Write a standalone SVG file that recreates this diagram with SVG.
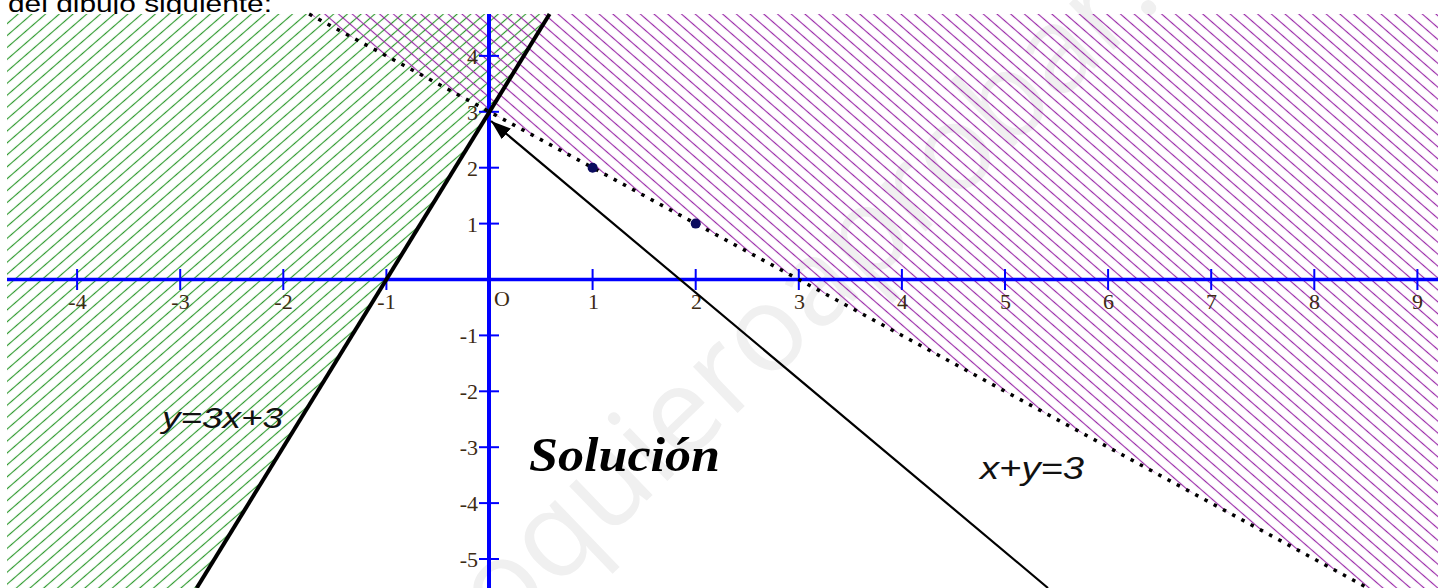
<svg xmlns="http://www.w3.org/2000/svg" width="1438" height="588" viewBox="0 0 1438 588">
<style>
.tl{font-family:"Liberation Serif","Times New Roman",serif;font-size:22px;fill:#3d2b14}
.tx{text-anchor:middle}
.ty{text-anchor:end}
.ax{stroke:#0000ff;fill:none}
.tk{stroke:#0000ff;stroke-width:2}
.eq{font-family:"Liberation Sans",Arial,sans-serif;font-style:italic;fill:#111}
</style>
<defs>
<pattern id="hg" patternUnits="userSpaceOnUse" width="9" height="9" patternTransform="rotate(-41)"><line x1="-1" y1="4.5" x2="10" y2="4.5" stroke="#2f9a2f" stroke-width="1.15"/></pattern>
<pattern id="hp" patternUnits="userSpaceOnUse" width="9" height="9" patternTransform="rotate(41)"><line x1="-1" y1="4.5" x2="10" y2="4.5" stroke="#9a2aa8" stroke-width="1.15"/></pattern>
<marker id="ah" markerUnits="userSpaceOnUse" markerWidth="22" markerHeight="16" refX="20" refY="7" orient="auto"><path d="M0,0 L20,7 L0,14 Z" fill="#000"/></marker>
</defs>
<rect width="1438" height="588" fill="#fff"/>
<text x="8" y="12" font-family="Liberation Sans,Arial,sans-serif" font-size="24" fill="#000" textLength="264" lengthAdjust="spacingAndGlyphs">del dibujo siguiente:</text>
<rect x="0" y="14" width="1438" height="574" fill="#fff"/>
<text x="459" y="682" transform="rotate(-44 459 682)" font-family="Open Sans,sans-serif" font-size="120" fill="#f0f0f0">yoquieroaprobar.es</text>
<g id="regions">
<polygon id="region-green" points="7,14 549.6,14 196.7,588 7,588" fill="url(#hg)"/>
<polygon id="region-purple" points="309.1,14 1438,14 1438,588 1367.8,588" fill="url(#hp)"/>
</g>
<g id="axes">
<line class="ax" x1="7" y1="279.5" x2="1438" y2="279.5" stroke-width="3.5"/>
<line class="ax" x1="489" y1="14" x2="489" y2="588" stroke-width="4"/>
<g id="xticks">
<line class="tk" x1="77.1" y1="269" x2="77.1" y2="290"/>
<line class="tk" x1="180.2" y1="269" x2="180.2" y2="290"/>
<line class="tk" x1="283.3" y1="269" x2="283.3" y2="290"/>
<line class="tk" x1="386.4" y1="269" x2="386.4" y2="290"/>
<line class="tk" x1="592.6" y1="269" x2="592.6" y2="290"/>
<line class="tk" x1="695.7" y1="269" x2="695.7" y2="290"/>
<line class="tk" x1="798.8" y1="269" x2="798.8" y2="290"/>
<line class="tk" x1="901.9" y1="269" x2="901.9" y2="290"/>
<line class="tk" x1="1005" y1="269" x2="1005" y2="290"/>
<line class="tk" x1="1108.1" y1="269" x2="1108.1" y2="290"/>
<line class="tk" x1="1211.2" y1="269" x2="1211.2" y2="290"/>
<line class="tk" x1="1314.3" y1="269" x2="1314.3" y2="290"/>
<line class="tk" x1="1417.4" y1="269" x2="1417.4" y2="290"/>
</g>
<g id="yticks">
<line class="tk" x1="479" y1="55.9" x2="499" y2="55.9"/>
<line class="tk" x1="479" y1="111.8" x2="499" y2="111.8"/>
<line class="tk" x1="479" y1="167.7" x2="499" y2="167.7"/>
<line class="tk" x1="479" y1="223.6" x2="499" y2="223.6"/>
<line class="tk" x1="479" y1="335.4" x2="499" y2="335.4"/>
<line class="tk" x1="479" y1="391.3" x2="499" y2="391.3"/>
<line class="tk" x1="479" y1="447.2" x2="499" y2="447.2"/>
<line class="tk" x1="479" y1="503.1" x2="499" y2="503.1"/>
<line class="tk" x1="479" y1="559" x2="499" y2="559"/>
</g>
<g id="xlabels" class="tl tx">
<text x="77.5" y="309">-4</text>
<text x="180.5" y="309">-3</text>
<text x="283.5" y="309">-2</text>
<text x="386.5" y="309">-1</text>
<text x="593.5" y="309">1</text>
<text x="696.5" y="309">2</text>
<text x="799.5" y="309">3</text>
<text x="902.5" y="309">4</text>
<text x="1005.5" y="309">5</text>
<text x="1108.5" y="309">6</text>
<text x="1211.5" y="309">7</text>
<text x="1314.5" y="309">8</text>
<text x="1417.5" y="309">9</text>
</g>
<text class="tl" x="494" y="306">O</text>
<g id="ylabels" class="tl ty">
<text x="478" y="64">4</text>
<text x="478" y="120">3</text>
<text x="478" y="176">2</text>
<text x="478" y="232">1</text>
<text x="478" y="343">-1</text>
<text x="478" y="399">-2</text>
<text x="478" y="455">-3</text>
<text x="478" y="511">-4</text>
<text x="478" y="567">-5</text>
</g>
</g>
<g id="connectors">
<line id="line-3x3" x1="549.6" y1="14" x2="196.7" y2="588" stroke="#000" stroke-width="4"/>
<line id="line-xy3" x1="309.1" y1="14" x2="1367.8" y2="588" stroke="#000" stroke-width="3.5" stroke-dasharray="3.5 7"/>
<line id="arrow" x1="1048" y1="588" x2="491" y2="121" stroke="#000" stroke-width="2.2" marker-end="url(#ah)"/>
</g>
<g id="points">
<circle id="p12" cx="592.6" cy="167.7" r="5" fill="#0b0b5e"/>
<circle id="p21" cx="695.7" cy="223.6" r="5" fill="#0b0b5e"/>
</g>
<g id="labels">
<text id="lbl-y3x3" class="eq" x="162" y="428" font-size="30" textLength="121" lengthAdjust="spacingAndGlyphs">y=3x+3</text>
<text id="lbl-xy3" class="eq" x="980" y="479" font-size="32" textLength="104" lengthAdjust="spacingAndGlyphs">x+y=3</text>
<text id="lbl-sol" x="529" y="471" font-family="Liberation Serif,'Times New Roman',serif" font-weight="bold" font-style="italic" font-size="48" fill="#000" textLength="191" lengthAdjust="spacingAndGlyphs">Solución</text>
</g>
</svg>
